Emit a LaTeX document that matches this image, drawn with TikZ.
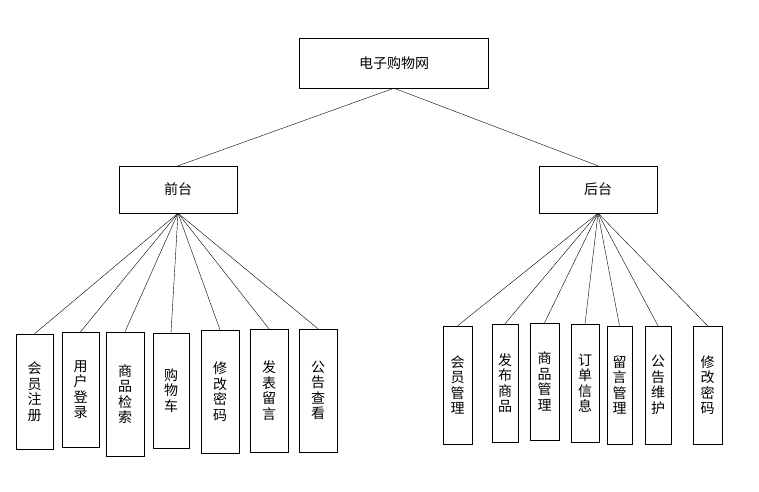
\documentclass[tikz,border=0pt]{standalone}
\usepackage{fontspec}
\newfontfamily\cjk{Noto Sans CJK SC}
\tikzset{line width=.6bp,
  every node/.style={font=\cjk\fontsize{14bp}{15.5bp}\selectfont},
  box/.style={draw,inner sep=0pt},
  topbox/.style={box,minimum width=189bp,minimum height=50bp},
  midbox/.style={box,minimum width=118bp,minimum height=47bp},
  leaf/.style={box,align=center,minimum width=37bp,minimum height=115bp},
  leafr/.style={box,align=center,minimum width=28bp,minimum height=118bp}}

\begin{document}
\begin{tikzpicture}[x=1bp,y=-1bp]
\useasboundingbox (0,0) rectangle (759,492);
\node[topbox] (web) at (394,63) {电子购物网};
\node[midbox] (front) at (178,189.5) {前台};
\node[midbox] (back) at (598,189.5) {后台};
% front leaves
\node[leaf] (f1) at (34.5,391.5) {会\\员\\注\\册};
\node[leaf] (f2) at (80.5,389.5) {用\\户\\登\\录};
\node[leaf,minimum width=38bp,minimum height=124bp] (f3) at (125,394) {商\\品\\检\\索};
\node[leaf,minimum width=36bp] (f4) at (171,390.5) {购\\物\\车};
\node[leaf,minimum width=38bp,minimum height=123bp] (f5) at (220,391.5) {修\\改\\密\\码};
\node[leaf,minimum width=38bp,minimum height=123bp] (f6) at (269,390.5) {发\\表\\留\\言};
\node[leaf,minimum width=38bp,minimum height=123bp] (f7) at (318,390.5) {公\\告\\查\\看};
% back leaves
\node[leafr,minimum width=29bp] (b1) at (457.5,385) {会\\员\\管\\理};
\node[leafr,minimum width=26bp] (b2) at (505,383) {发\\布\\商\\品};
\node[leafr,minimum width=29bp,minimum height=117bp] (b3) at (544.5,381.5) {商\\品\\管\\理};
\node[leafr] (b4) at (585,383) {订\\单\\信\\息};
\node[leafr,minimum width=25bp] (b5) at (619.5,385) {留\\言\\管\\理};
\node[leafr,minimum width=26bp] (b6) at (658,385) {公\\告\\维\\护};
\node[leafr,minimum width=29bp] (b7) at (707.5,385) {修\\改\\密\\码};
\draw (web.south)--(front.north);\draw (web.south)--(back.north);
\foreach \i in {1,...,7}{\draw (front.south)--(f\i.north);\draw (back.south)--(b\i.north);}
\end{tikzpicture}
\end{document}
